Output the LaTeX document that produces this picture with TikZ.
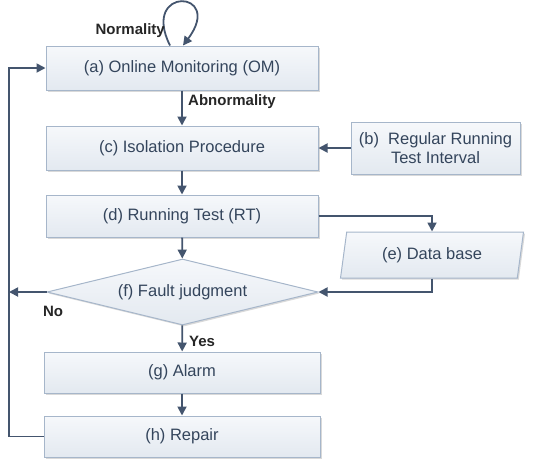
\documentclass[tikz,border=0pt]{standalone}
\usepackage{fontspec}
\setmainfont{Liberation Sans}
\usetikzlibrary{shapes.geometric,arrows.meta,shadows,calc}
\definecolor{boxborder}{HTML}{A6B6CA}
\definecolor{boxtop}{HTML}{F6F8FB}
\definecolor{boxbot}{HTML}{E3E9F0}
\definecolor{txt}{HTML}{34455C}
\definecolor{arrcol}{HTML}{44556E}
\begin{document}
\begin{tikzpicture}[x=1pt,y=-1pt,
  box/.style={draw=boxborder, line width=1pt, top color=boxtop, bottom color=boxbot,
    text=txt, font=\fontsize{16.5}{19}\selectfont, inner sep=0pt,
    drop shadow={shadow xshift=1.5pt, shadow yshift=-1.5pt, opacity=0.15, fill=black}},
  arr/.style={draw=arrcol, line width=1.8pt, -{Triangle[length=9pt,width=9pt]}},
  lbl/.style={font=\bfseries\fontsize{15}{18}\selectfont, text=black!85, inner sep=0pt}]
\useasboundingbox (0,0) rectangle (540,459);
\node[box, minimum width=272pt, minimum height=44pt] (a) at (182,68) {(a) Online Monitoring (OM)};
\node[box, minimum width=272pt, minimum height=44pt] (c) at (182,148) {(c) Isolation Procedure};
\node[box, minimum width=169pt, minimum height=52pt, align=center] (b) at (435.5,148) {(b)\ \ Regular Running\\Test Interval};
\node[box, minimum width=272pt, minimum height=42pt] (d) at (182,216) {(d) Running Test (RT)};
\node[box, trapezium, trapezium left angle=68, trapezium right angle=112, trapezium stretches body,
  minimum width=183pt, minimum height=46pt] (e) at (432,255) {(e) Data base};
\node[box, diamond, aspect=4.1, inner sep=0pt, minimum width=271pt, minimum height=66pt] (f) at (182.5,292) {(f) Fault judgment};
\node[box, minimum width=276pt, minimum height=41pt] (g) at (182,372.5) {(g) Alarm};
\node[box, minimum width=276pt, minimum height=41pt] (h) at (182,436.5) {(h) Repair};
\coordinate (lft) at (9,0);
% connectors
\draw[arr] ([xshift=-12pt]a.north) .. controls +(-30,-60) and +(42,-56) .. ([xshift=1pt]a.north);
\node[lbl, anchor=east] (nl) at (165,31) {Normality};
\draw[arr] (a) -- (c);
\node[lbl, anchor=west] (ab) at (188,102) {Abnormality};
\draw[arr] (b) -- (c);
\draw[arr] (c) -- (d);
\draw[arr] (d) -- (f);
\draw[arr] (d.east) -| (e.north);
\draw[arr] (e.south) |- (f.east);
\draw[arr] (f.west) -- (f.west -| lft);
\node[lbl] (no) at (53,311) {No};
\draw[arr] (f) -- (g);
\node[lbl, anchor=west] (yes) at (189,341) {Yes};
\draw[arr] (g) -- (h);
\draw[arr] (h.west) -- (h.west -| lft) |- (a.west);
\end{tikzpicture}
\end{document}
